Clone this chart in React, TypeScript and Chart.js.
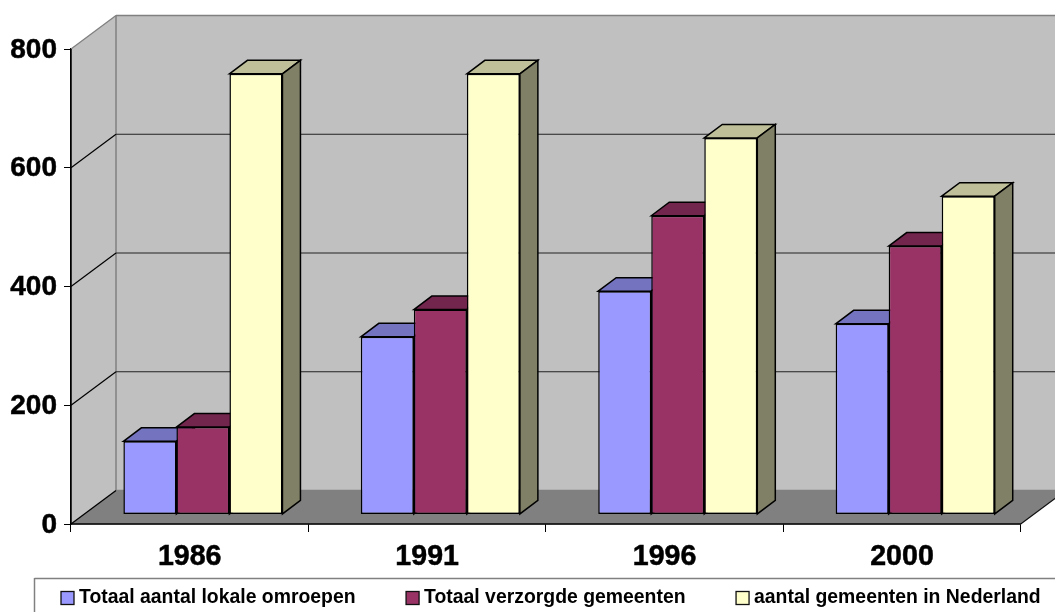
import React, { useEffect, useRef } from "react";
import { Chart, registerables } from "chart.js";

Chart.register(...registerables);

const categories = ["1986", "1991", "1996", "2000"];
const seriesNames = [
  "Totaal aantal lokale omroepen",
  "Totaal verzorgde gemeenten",
  "aantal gemeenten in Nederland",
];
const lokaleOmroepen = [123, 299, 376, 321];
const verzorgdeGemeenten = [147, 345, 503, 452];
const gemeentenNederland = [742, 742, 634, 536];
const seriesColors = ["#9999FF", "#993366", "#FFFFCC"];
const topColors = ["#7373BF", "#73264D", "#BFBF99"];
const sideColors = ["#4D4D80", "#4D1A33", "#808066"];

const FONT = '"Liberation Sans", Arial, sans-serif';
const WALL = { dx: 45, dy: -33.5 };
const BAR_SHIFT = { dx: 13.2, dy: -9.6 };
const BAR_DEPTH = { dx: 18, dy: -13.5 };

const poly = (ctx: CanvasRenderingContext2D, pts: number[][], fill: string | null, stroke: string | null, lw = 1) => {
  ctx.beginPath();
  pts.forEach((p, i) => (i ? ctx.lineTo(p[0], p[1]) : ctx.moveTo(p[0], p[1])));
  ctx.closePath();
  if (fill) {
    ctx.fillStyle = fill;
    ctx.fill();
  }
  if (stroke) {
    ctx.strokeStyle = stroke;
    ctx.lineWidth = lw;
    ctx.stroke();
  }
};

const line = (ctx: CanvasRenderingContext2D, x1: number, y1: number, x2: number, y2: number, color: string, lw: number) => {
  ctx.beginPath();
  ctx.moveTo(x1, y1);
  ctx.lineTo(x2, y2);
  ctx.strokeStyle = color;
  ctx.lineWidth = lw;
  ctx.stroke();
};

const chart3d = {
  id: "chart3d",
  beforeDatasetsDraw(chart: any) {
    const { ctx, chartArea: a, scales } = chart;
    const yS = scales.y;
    const x0 = a.left;
    const x1 = a.right;
    const base = yS.getPixelForValue(0);
    const top = yS.getPixelForValue(800);
    const bx0 = x0 + WALL.dx;
    const bx1 = x1 + WALL.dx;
    const bBase = base + WALL.dy;
    const bTop = top + WALL.dy;
    ctx.save();
    ctx.lineJoin = "miter";
    poly(ctx, [[x0, base], [bx0, bBase], [bx0, bTop], [x0, top]], "#C0C0C0", null);
    poly(ctx, [[bx0, bTop], [bx1, bTop], [bx1, bBase], [bx0, bBase]], "#C0C0C0", null);
    poly(ctx, [[x0, base], [bx0, bBase], [bx1, bBase], [x1, base]], "#808080", null);
    line(ctx, x0, top, bx0, bTop, "#808080", 1.3);
    line(ctx, bx0, bTop, bx1, bTop, "#808080", 1.3);
    line(ctx, bx0, bTop, bx0, bBase, "#808080", 1.5);
    line(ctx, bx0, bBase, bx1, bBase, "#808080", 1.3);
    for (const t of yS.ticks) {
      if (t.value === 0 || t.value === 800) continue;
      const y = yS.getPixelForValue(t.value);
      line(ctx, x0, y, bx0, y + WALL.dy, "#000000", 1.2);
      line(ctx, bx0, y + WALL.dy, bx1, y + WALL.dy, "#222222", 1.2);
    }
    line(ctx, x0, base, bx0, bBase, "#000000", 1.3);
    line(ctx, x1, base, bx1, bBase, "#111111", 1.2);
    line(ctx, x0, base, x1, base, "#000000", 1.5);
    line(ctx, x0, top, x0, base, "#000000", 1.5);
    chart.data.datasets.forEach((_: any, i: number) => {
      chart.getDatasetMeta(i).data.forEach((bar: any) => {
        const l = bar.x - bar.width / 2 + BAR_SHIFT.dx;
        const r = bar.x + bar.width / 2 + BAR_SHIFT.dx;
        const t = bar.y + BAR_SHIFT.dy;
        const b = bar.base + BAR_SHIFT.dy;
        const d = BAR_DEPTH;
        poly(ctx, [[l, t], [l + d.dx, t + d.dy], [r + d.dx, t + d.dy], [r, t]], topColors[i], "#000000", 1.5);
        poly(ctx, [[r, t], [r + d.dx, t + d.dy], [r + d.dx, b + d.dy], [r, b]], sideColors[i], "#000000", 1.5);
      });
    });
    ctx.restore();
    ctx.save();
    ctx.translate(BAR_SHIFT.dx, BAR_SHIFT.dy);
  },
  afterDatasetsDraw(chart: any) {
    chart.ctx.restore();
  },
  afterDraw(chart: any) {
    const { ctx } = chart;
    ctx.save();
    line(ctx, 34.5, 578.5, 1060, 578.5, "#808080", 1.5);
    line(ctx, 34.5, 578, 34.5, 620, "#808080", 1.5);
    ctx.font = `bold 19.4px ${FONT}`;
    ctx.textBaseline = "middle";
    ctx.textAlign = "left";
    let x = 61;
    seriesNames.forEach((name, i) => {
      ctx.fillStyle = seriesColors[i];
      ctx.fillRect(x, 591.5, 13, 13);
      ctx.strokeStyle = "#111111";
      ctx.lineWidth = 1.3;
      ctx.strokeRect(x, 591.5, 13, 13);
      ctx.fillStyle = "#000000";
      ctx.fillText(name, x + 18, 597.5);
      x += 18 + ctx.measureText(name).width + 50.5;
    });
    ctx.restore();
  },
};

export default function App() {
  const ref = useRef<HTMLCanvasElement>(null);
  useEffect(() => {
    const seriesValues = [lokaleOmroepen, verzorgdeGemeenten, gemeentenNederland];
    const chart = new Chart(ref.current!, {
      type: "bar",
      data: {
        labels: categories,
        datasets: seriesNames.map((label, i) => ({
          label,
          data: seriesValues[i],
          backgroundColor: seriesColors[i],
          borderColor: "#000000",
          borderWidth: 1.5,
          borderSkipped: false,
          clip: false,
          categoryPercentage: 0.67,
          barPercentage: 1,
        })),
      } as any,
      options: {
        animation: false,
        responsive: false,
        devicePixelRatio: 1,
        layout: { padding: { top: 49, right: 34.3, bottom: 0, left: 0 } },
        plugins: { legend: { display: false }, tooltip: { enabled: false }, title: { display: false } },
        scales: {
          x: {
            afterFit: (s: any) => { s.height = 88; },
            grid: { drawOnChartArea: false, drawTicks: true, tickLength: 8, color: "#000000", lineWidth: 1 },
            border: { display: true, color: "#000000", width: 1.3 },
            ticks: { color: "#000000", padding: 11, maxRotation: 0, textStrokeColor: "#000000", textStrokeWidth: 0.5, font: { family: FONT, size: 28.6, weight: "bold", lineHeight: 1 } },
          },
          y: {
            min: 0,
            max: 800,
            afterFit: (s: any) => { s.width = 71; },
            grid: { drawOnChartArea: false, drawTicks: true, tickLength: 7, color: "#000000", lineWidth: 1 },
            border: { display: true, color: "#000000", width: 1.3 },
            ticks: { stepSize: 200, color: "#000000", padding: 7, labelOffset: 1, textStrokeColor: "#000000", textStrokeWidth: 0.5, font: { family: FONT, size: 28, weight: "bold" } },
          },
        },
      } as any,
      plugins: [chart3d as any],
    });
    return () => chart.destroy();
  }, []);
  return (
    <canvas
      ref={ref}
      width={1055}
      height={612}
      style={{ position: "absolute", left: 0, top: 0, display: "block", width: 1055, height: 612 }}
    />
  );
}
